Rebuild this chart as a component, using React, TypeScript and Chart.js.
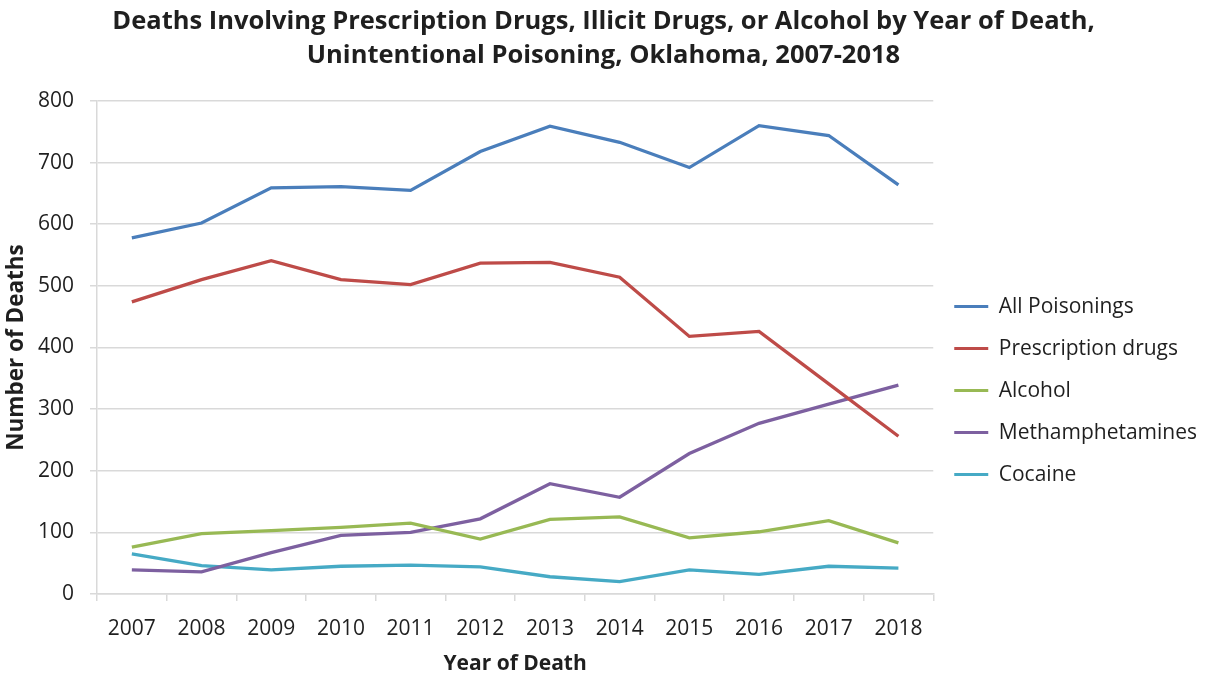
import React, { useEffect, useRef } from "react";
import { Chart, registerables } from "chart.js";

Chart.register(...registerables);

const years = ["2007", "2008", "2009", "2010", "2011", "2012", "2013", "2014", "2015", "2016", "2017", "2018"];
const allPoisonings = [578, 602, 659, 661, 655, 718, 759, 733, 692, 760, 744, 664];
const prescriptionDrugs = [474, 510, 541, 510, 502, 537, 538, 514, 418, 426, 341, 256];
const alcohol = [76, 98, 103, 108, 115, 89, 121, 125, 91, 101, 119, 83];
const methamphetamines = [39, 36, 67, 95, 100, 122, 179, 157, 228, 277, 308, 339];
const cocaine = [65, 46, 39, 45, 47, 44, 28, 20, 39, 32, 45, 42];

const titleLines = [
  "Deaths Involving Prescription Drugs, Illicit Drugs, or Alcohol by Year of Death,",
  "Unintentional Poisoning, Oklahoma, 2007-2018",
];
const yTicks = [0, 100, 200, 300, 400, 500, 600, 700, 800];

const FONT = "'Open Sans', 'Noto Sans', sans-serif";
const TEXT = "#1f1f1f";
const GRID = "#d9d9d9";

export default function App() {
  const ref = useRef<HTMLCanvasElement | null>(null);
  useEffect(() => {
    if (!ref.current) return;
    const mk = (label: string, data: number[], color: string) => ({
      label,
      data,
      borderColor: color,
      backgroundColor: color,
      borderWidth: 3.3,
      pointRadius: 0,
      tension: 0,
    });
    const chart = new Chart(ref.current, {
      type: "line",
      data: {
        labels: years,
        datasets: [
          mk("All Poisonings", allPoisonings, "#4a7ebb"),
          mk("Prescription drugs", prescriptionDrugs, "#be4b48"),
          mk("Alcohol", alcohol, "#98b954"),
          mk("Methamphetamines", methamphetamines, "#7d60a0"),
          mk("Cocaine", cocaine, "#46aac5"),
        ],
      },
      options: {
        responsive: false,
        animation: false,
        layout: { padding: { left: 0, right: 9, top: 0, bottom: 0 } },
        plugins: {
          title: {
            display: true,
            text: titleLines,
            color: TEXT,
            font: { family: FONT, size: 25.5, weight: "bold", lineHeight: 1.333 },
            padding: { top: 5, bottom: 28 },
          },
          legend: {
            position: "right",
            align: "center",
            title: {
              display: true,
              text: "",
              font: { family: FONT, size: 21 },
              padding: { top: 79, bottom: 0 },
            },
            labels: {
              color: TEXT,
              font: { family: FONT, size: 21 },
              boxWidth: 34,
              boxHeight: 3,
              padding: 21,
              generateLabels: (c: any) =>
                Chart.defaults.plugins.legend.labels.generateLabels(c).map((l: any) => ({
                  ...l,
                  lineWidth: 0,
                  strokeStyle: "rgba(0,0,0,0)",
                })),
            },
          },
          tooltip: { enabled: false },
        },
        scales: {
          x: {
            type: "category",
            offset: true,
            afterFit: (s: any) => {
              s.height = 83;
            },
            grid: {
              offset: true,
              drawOnChartArea: false,
              drawTicks: true,
              tickLength: 7,
              color: GRID,
              lineWidth: 1.5,
            },
            border: { color: GRID, width: 1.5 },
            ticks: { color: TEXT, font: { family: FONT, size: 21 }, padding: 15, maxRotation: 0 },
            title: {
              display: true,
              text: "Year of Death",
              color: TEXT,
              font: { family: FONT, size: 21, weight: "bold" },
              padding: { top: 0, bottom: 0 },
            },
          },
          y: {
            min: yTicks[0],
            max: yTicks[yTicks.length - 1],
            afterFit: (s: any) => {
              s.width = 97;
            },
            afterBuildTicks: (s: any) => {
              s.ticks = yTicks.map((v) => ({ value: v }));
            },
            grid: {
              color: GRID,
              lineWidth: 1.5,
              drawTicks: true,
              tickLength: 7,
            },
            border: { color: GRID, width: 1.5 },
            ticks: { color: TEXT, font: { family: FONT, size: 21 }, padding: 16 },
            title: {
              display: true,
              text: "Number of Deaths",
              color: TEXT,
              font: { family: FONT, size: 22.5, weight: "bold" },
              padding: { top: 3, bottom: 0 },
            },
          },
        },
      },
    } as any);
    return () => chart.destroy();
  }, []);
  return (
    <div style={{ position: "absolute", left: 0, top: 0, width: 1216, height: 677, background: "#fff" }}>
      <canvas ref={ref} width={1216} height={677} />
    </div>
  );
}
